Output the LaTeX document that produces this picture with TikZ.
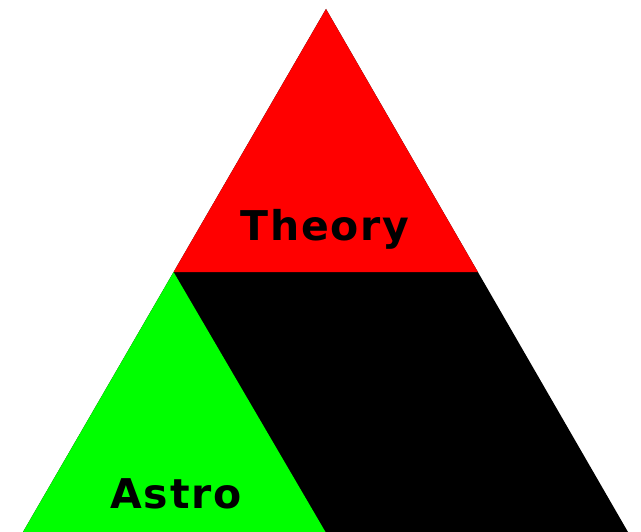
\documentclass[tikz,border=0pt]{standalone}
\usepackage{fontspec}
\usepackage{tikz}
\usetikzlibrary{calc}
\newfontfamily\labelfont[LetterSpace=4]{DejaVu Sans}
\definecolor{theoryRed}{HTML}{FF0000}
\definecolor{astroGreen}{HTML}{00FF00}

\begin{document}
\begin{tikzpicture}[
  x=1pt, y=-1pt,
  label/.style={anchor=base, inner sep=0pt,
                font=\fontsize{41}{41}\labelfont\bfseries}
]
  \useasboundingbox (0,0) rectangle (641,532);
  \coordinate (apex)  at (326,9);
  \coordinate (baseL) at (23,532);
  \coordinate (baseR) at (628,532);
  \coordinate (midL)  at ($(apex)!0.503!(baseL)$);
  \coordinate (midR)  at ($(apex)!0.503!(baseR)$);
  \coordinate (midB)  at ($(baseL)!0.5!(baseR)$);

  % whole triangle, then the two coloured parts
  \fill[black] (apex) -- (baseL) -- (baseR) -- cycle;
  \fill[theoryRed] (apex) -- (midL) -- (midR) -- cycle;
  \fill[astroGreen] (midL) -- (baseL) -- (midB) -- cycle;

  \node[label] (theory) at (325,241) {Theory};
  \node[label] (astro)  at (176,508) {Astro};
\end{tikzpicture}
\end{document}
